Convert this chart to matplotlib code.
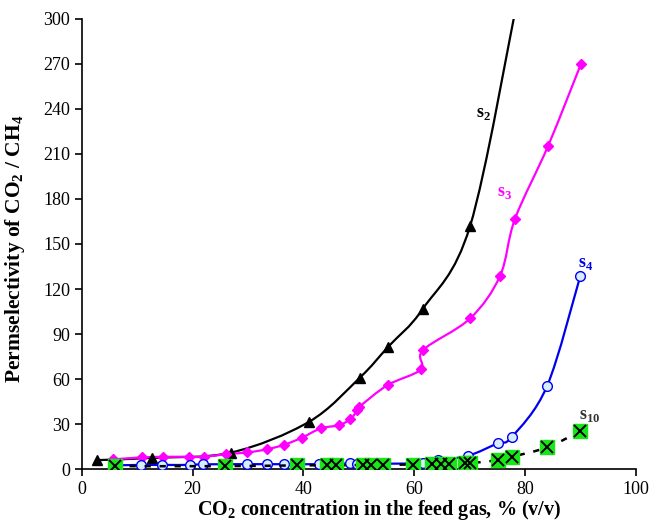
import matplotlib
matplotlib.use("Agg")
import matplotlib.pyplot as plt
import numpy as np
from matplotlib.path import Path
from matplotlib.patches import PathPatch

# CO2 concentration in feed (% v/v) and permselectivity for each membrane
s2_x = [2.8, 12.7, 26.9, 41.0, 50.2, 55.3, 61.6, 70.1, 78.6]
s2_y = [6.0, 7.5, 11.0, 31.5, 61.0, 81.5, 107.0, 162.0, 312.0]

s3_x = [5.6, 10.8, 14.6, 19.4, 22.1, 26.1, 29.9, 33.5, 36.5, 39.7, 43.1, 46.4,
        48.5, 49.7, 50.1, 55.2, 61.2, 61.6, 70.1, 75.5, 78.2, 84.2, 90.1]
s3_y = [6.5, 7.8, 8.2, 8.2, 8.2, 10.0, 11.1, 13.3, 16.2, 20.9, 27.1, 29.3,
        33.3, 39.3, 41.5, 56.0, 66.4, 79.3, 100.4, 128.7, 166.7, 215.5, 269.8]

s4_x = [5.9, 10.6, 14.5, 19.5, 21.9, 29.9, 33.4, 36.5, 42.8, 48.5, 49.7,
        61.6, 64.3, 69.8, 75.1, 77.6, 84.0, 90.0]
s4_y = [2.5, 2.8, 2.8, 2.8, 3.2, 3.3, 3.3, 3.3, 3.3, 3.8, 3.5,
        4.0, 6.0, 9.0, 17.3, 21.3, 55.4, 128.7]

s10_x = [5.9, 25.9, 38.9, 44.3, 45.9, 50.8, 52.2, 54.4, 59.8, 63.2, 64.8,
         66.2, 69.2, 70.1, 75.2, 77.6, 84.0, 90.0]
s10_y = [2.0, 2.0, 2.5, 2.5, 2.5, 2.8, 2.8, 3.0, 3.0, 3.5, 3.5,
         3.5, 4.0, 4.0, 6.0, 8.2, 14.5, 25.3]

plt.rcParams["font.family"] = ["Liberation Serif", "DejaVu Serif"]
plt.rcParams["mathtext.fontset"] = "custom"
plt.rcParams["mathtext.rm"] = "Liberation Serif"
plt.rcParams["mathtext.bf"] = "Liberation Serif:bold"


def smooth_line(ax, x, y, **kw):
    # Excel-style smoothed line: Catmull-Rom segments as cubic Beziers
    pts = np.column_stack([x, y]).astype(float)
    n = len(pts)
    verts = [pts[0]]
    codes = [Path.MOVETO]
    for i in range(n - 1):
        p0 = pts[i - 1] if i > 0 else pts[i]
        p1, p2 = pts[i], pts[i + 1]
        p3 = pts[i + 2] if i + 2 < n else pts[i + 1]
        verts += [p1 + (p2 - p0) / 6, p2 - (p3 - p1) / 6, p2]
        codes += [Path.CURVE4] * 3
    ax.add_patch(PathPatch(Path(verts, codes), fill=False, **kw))


fig = plt.figure(figsize=(6.5, 5.23), dpi=100)
ax = fig.add_axes([0.126, 0.103, 0.852, 0.861])

smooth_line(ax, s2_x, s2_y, edgecolor="black", lw=1.6, zorder=2)
ax.plot(s2_x, s2_y, ls="none", marker="^", ms=7, color="black", zorder=3)

smooth_line(ax, s3_x, s3_y, edgecolor="#FF00FF", lw=1.6, zorder=2)
ax.plot(s3_x, s3_y, ls="none", marker="D", ms=5.5, color="#FF00FF", zorder=3)

smooth_line(ax, s4_x, s4_y, edgecolor="#0000EE", lw=1.6, zorder=4)
ax.plot(s4_x, s4_y, ls="none", marker="o", ms=7, mfc="#D6EEFF",
        mec="#0000EE", mew=1.0, zorder=5)

smooth_line(ax, s10_x, s10_y, edgecolor="black", lw=1.8,
            linestyle=(0, (2.5, 3.5)), zorder=6)
ax.plot(s10_x, s10_y, ls="none", marker="s", ms=10, mfc="#19E619",
        mec="#19E619", zorder=7)
ax.plot(s10_x, s10_y, ls="none", marker="x", ms=8, mew=1.4,
        color="black", zorder=8)

label_kw = dict(fontsize=13, fontweight="bold")
ax.text(72.5, 237, r"s$_\mathbf{2}$", color="black", ha="center", va="center", **label_kw)
ax.text(76.4, 184, r"s$_\mathbf{3}$", color="#FF00FF", ha="center", va="center", **label_kw)
ax.text(91.0, 137, r"s$_\mathbf{4}$", color="#0000EE", ha="center", va="center", **label_kw)
ax.text(91.6, 36, r"s$_\mathbf{10}$", color="#333333", ha="center", va="center", **label_kw)

ax.set_xlim(0, 100)
ax.set_ylim(0, 300)
ax.set_xticks(np.arange(0, 101, 20))
ax.set_yticks(np.arange(0, 301, 30))
ax.tick_params(labelsize=13, length=5, width=1.2, direction="out")
for side in ("top", "right"):
    ax.spines[side].set_visible(False)
for side in ("left", "bottom"):
    ax.spines[side].set_linewidth(1.2)

ax.set_xlabel(r"CO$_\mathbf{2}$ concentration in the feed gas, % (v/v)",
              fontsize=14.5, fontweight="bold")
ax.set_ylabel(r"Permselectivity of CO$_\mathbf{2}$ / CH$_\mathbf{4}$",
              fontsize=15.5, fontweight="bold")
ax.xaxis.set_label_coords(0.537, -0.064)
ax.yaxis.set_label_coords(-0.099, 0.489)

fig.savefig("out.png", dpi=100)
